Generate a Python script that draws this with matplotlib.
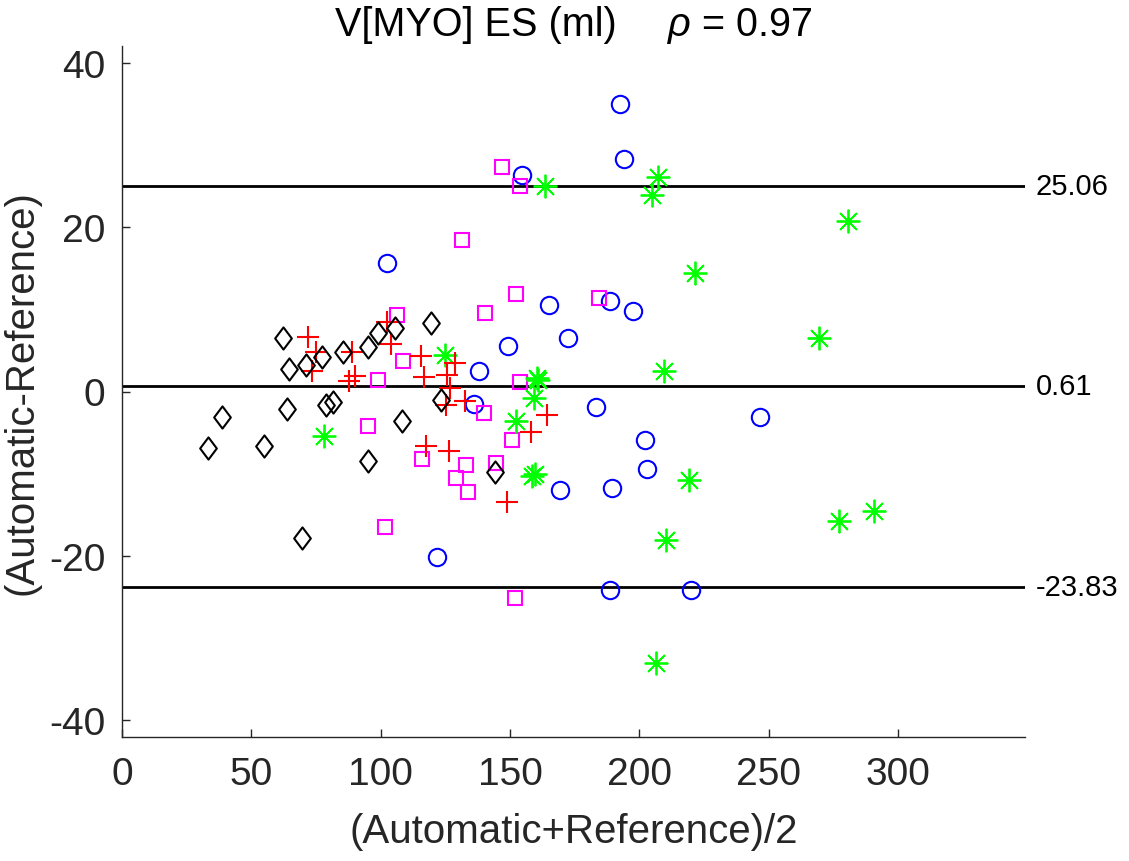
import matplotlib
matplotlib.use("Agg")
import matplotlib.pyplot as plt
from matplotlib.path import Path
import matplotlib.transforms as mtransforms

plt.rcParams['font.family'] = ['Liberation Sans', 'DejaVu Sans']
plt.rcParams['mathtext.fontset'] = 'custom'
plt.rcParams['mathtext.rm'] = 'Liberation Sans'
plt.rcParams['mathtext.it'] = 'Liberation Sans:italic'

# ---- data: (mean, difference) per group ----
blue_x = [192.5, 194.2, 154.7, 102.6, 165.2, 188.6, 197.4, 172.5, 149.1, 138.0,
          136.2, 183.1, 202.2, 203.1, 189.3, 169.3, 121.6, 188.6, 220.0, 246.6]
blue_y = [35.0, 28.3, 26.4, 15.65, 10.57, 11.06, 9.8, 6.51, 5.5, 2.46,
          -1.52, -1.85, -5.87, -9.44, -11.75, -12.0, -20.1, -24.17, -24.17, -3.1]

magenta_x = [146.8, 153.8, 131.3, 152.3, 184.5, 140.3, 106.4, 108.7, 99.1, 153.8,
             140.1, 150.6, 95.2, 116.1, 133.0, 129.0, 133.9, 144.5, 101.7, 151.7]
magenta_y = [27.3, 24.99, 18.45, 11.87, 11.35, 9.56, 9.32, 3.75, 1.44, 1.19,
             -2.62, -5.9, -4.16, -8.22, -8.95, -10.53, -12.28, -8.75, -16.54, -25.18]

green_x = [163.5, 207.1, 204.7, 124.9, 160.3, 160.8, 159.4, 152.3, 209.5, 158.4,
           159.5, 210.3, 206.4, 78.1, 280.4, 221.6, 269.2, 219.2, 277.2, 290.8]
green_y = [25.06, 26.08, 23.93, 4.48, 1.64, 1.4, -0.83, -3.55, 2.46, -10.33,
           -10.05, -18.08, -33.06, -5.38, 20.72, 14.39, 6.51, -10.74, -15.8, -14.51]

red_x = [71.8, 75.0, 73.3, 88.8, 87.9, 90.1, 102.3, 103.8, 115.5, 116.7,
         125.5, 128.7, 126.8, 125.2, 132.6, 117.5, 126.5, 164.2, 158.0, 148.9]
red_y = [6.60, 4.77, 2.53, 4.77, 1.32, 1.93, 8.43, 5.78, 4.28, 1.73,
         2.01, 3.50, 0.39, -1.7, -1.12, -6.6, -7.2, -2.86, -4.89, -13.5]

black_x = [62.1, 64.6, 71.0, 77.4, 85.3, 95.2, 99.1, 105.5, 119.3, 63.7,
           38.8, 33.1, 54.9, 78.9, 81.4, 95.2, 108.1, 69.5, 123.3, 144.2]
black_y = [6.51, 2.70, 3.23, 4.24, 4.77, 5.46, 7.09, 7.70, 8.30, -2.13,
           -3.14, -6.92, -6.67, -1.64, -1.32, -8.46, -3.63, -17.84, -1.04, -9.84]

limits = [25.06, 0.61, -23.83]
limit_labels = ["25.06", "0.61", "-23.83"]
x_ticks = [0, 50, 100, 150, 200, 250, 300]
y_ticks = [-40, -20, 0, 20, 40]

title_main = "V[MYO] ES (ml)"
rho_text = r"$\mathit{ρ}$ = 0.97"

fig = plt.figure(figsize=(11.29, 8.62), dpi=100)
ax = fig.add_axes([122/1129, 1 - 738/862, (1025-122)/1129, (738-47)/862])

axcol = '#262626'

diamond = Path([(0, 1), (0.75, 0), (0, -1), (-0.75, 0), (0, 1)],
               [Path.MOVETO, Path.LINETO, Path.LINETO, Path.LINETO, Path.CLOSEPOLY])

for yv in limits:
    ax.axhline(yv, color='black', lw=2.0, zorder=1)

common = dict(linestyle='none', markerfacecolor='none', markeredgewidth=1.5, zorder=3)
ax.plot(blue_x, blue_y, marker='o', markersize=12.5, markeredgecolor='#0000ff', **common)
ax.plot(magenta_x, magenta_y, marker='s', markersize=10.5, markeredgecolor='#ff00ff', **common)
ax.plot(green_x, green_y, marker=(8, 2, 0), markersize=17, markeredgecolor='#00ff00',
        color='#00ff00', linestyle='none', markeredgewidth=1.3, zorder=3)
ax.plot(red_x, red_y, marker='+', markersize=16, markeredgecolor='#ff0000', **common)
ax.plot(black_x, black_y, marker=diamond, markersize=16, markeredgecolor='black', **common)

ax.set_xlim(0, 349)
ax.set_ylim(-42.07, 42.07)
ax.set_xticks(x_ticks)
ax.set_yticks(y_ticks)
ax.set_xticklabels([str(v) for v in x_ticks])
ax.set_yticklabels([str(v) for v in y_ticks])

for s in ['top', 'right']:
    ax.spines[s].set_visible(False)
for s in ['left', 'bottom']:
    ax.spines[s].set_color(axcol)
    ax.spines[s].set_linewidth(1.0)

ax.tick_params(axis='both', direction='in', length=6, width=1.0, colors=axcol,
               labelsize=28, labelcolor=axcol)
ax.tick_params(axis='x', pad=14)
ax.tick_params(axis='y', pad=12)

ax.set_xlabel("(Automatic+Reference)/2", fontsize=29, color=axcol, labelpad=14)
ax.set_ylabel("(Automatic-Reference)", fontsize=29, color=axcol, labelpad=6)

trans = mtransforms.blended_transform_factory(ax.transAxes, ax.transData)
for yv, lab in zip(limits, limit_labels):
    ax.text(1.012, yv, lab, transform=trans, ha='left', va='center', fontsize=21, color='black')

fig.text(335/1129, 1 - 36/862, title_main, fontsize=28.5, ha='left', va='baseline', color='black')
fig.text(667/1129, 1 - 36/862, rho_text, fontsize=28.5, ha='left', va='baseline', color='black')

fig.savefig("out.png", dpi=100)
